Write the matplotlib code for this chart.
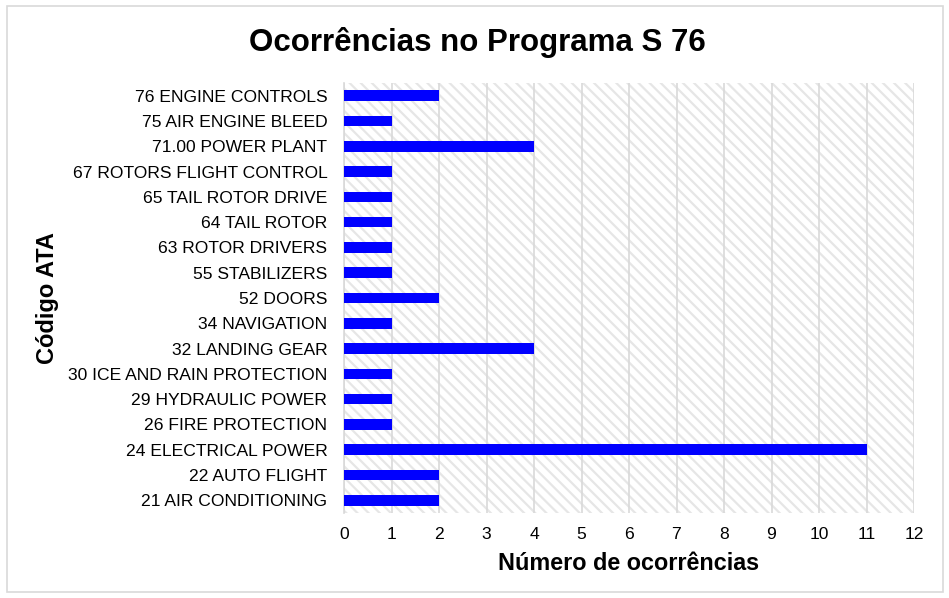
import matplotlib
matplotlib.use("Agg")
import matplotlib.pyplot as plt
from matplotlib.patches import Rectangle

plt.rcParams['font.family'] = ['Liberation Sans', 'DejaVu Sans']
plt.rcParams['hatch.linewidth'] = 1.6

categories = [
    "21 AIR CONDITIONING", "22 AUTO FLIGHT", "24 ELECTRICAL POWER",
    "26 FIRE PROTECTION", "29 HYDRAULIC POWER", "30 ICE AND RAIN PROTECTION",
    "32 LANDING GEAR", "34 NAVIGATION", "52 DOORS", "55 STABILIZERS",
    "63 ROTOR DRIVERS", "64 TAIL ROTOR", "65 TAIL ROTOR DRIVE",
    "67 ROTORS FLIGHT CONTROL", "71.00 POWER PLANT", "75 AIR ENGINE BLEED",
    "76 ENGINE CONTROLS",
]
occurrences = [2, 2, 11, 1, 1, 1, 4, 1, 2, 1, 1, 1, 1, 1, 4, 1, 2]
x_ticks = list(range(0, 13))

fig = plt.figure(figsize=(9.49, 5.98), dpi=100)
fig.patch.set_facecolor('white')
fig.add_artist(Rectangle((7 / 949, 6 / 598), 936 / 949, 586 / 598,
                         transform=fig.transFigure, fill=False,
                         edgecolor='#d9d9d9', linewidth=1.2))

ax = fig.add_axes([344 / 949, 1 - 513 / 598, 570 / 949, 430 / 598])
ax.set_facecolor('white')
ax.add_patch(Rectangle((0, 0), 1, 1, transform=ax.transAxes,
                       facecolor='white', edgecolor='#e6e6e6',
                       hatch='\\\\\\', linewidth=0, zorder=0))

y = list(range(len(categories)))
ax.barh(y, occurrences, height=0.42, color='#0000ff', zorder=3)

ax.set_xlim(0, 12)
ax.set_ylim(-0.5, len(categories) - 0.5)
ax.set_xticks(x_ticks)
ax.set_xticklabels([str(t) for t in x_ticks])
ax.set_yticks(y)
ax.set_yticklabels(categories)
ax.tick_params(axis='both', length=0, labelsize=12.6, colors='black')
ax.tick_params(axis='x', pad=10)
ax.tick_params(axis='y', pad=12)
ax.grid(axis='x', color='#d9d9d9', linewidth=1.2, zorder=1)
ax.set_axisbelow(True)
for s in ['top', 'right', 'bottom']:
    ax.spines[s].set_visible(False)
ax.spines['left'].set_color('#d9d9d9')
ax.spines['left'].set_linewidth(1.2)

ax.set_xlabel('Número de ocorrências', fontsize=16.8, fontweight='bold', labelpad=7)
ax.set_ylabel('Código ATA', fontsize=17, fontweight='bold')
ax.yaxis.set_label_coords((59 - 344) / 570, 0.5)
fig.text(477 / 949, 1 - 42 / 598, 'Ocorrências no Programa S 76',
         ha='center', va='center', fontsize=22.5, fontweight='bold')

fig.savefig('out.png', dpi=100, facecolor='white')
